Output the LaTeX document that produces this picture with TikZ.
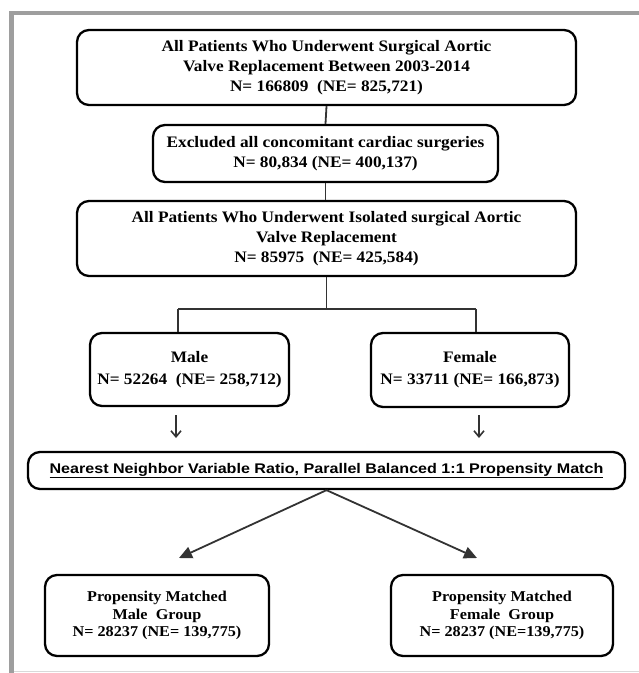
\documentclass[tikz,border=0pt]{standalone}
\usepackage{fontspec}
\setmainfont[FakeStretch=1.08]{Liberation Serif}
\newfontfamily\arialf[FakeStretch=1.15]{Liberation Sans}
\usetikzlibrary{arrows.meta}
\begin{document}
\begin{tikzpicture}[x=1pt,y=-1pt,
  box/.style={draw=black,line width=2.3pt,rounded corners=12pt,align=center,inner sep=0pt,
    font=\fontsize{16}{20}\selectfont\bfseries},
  smallbox/.style={box,font=\fontsize{15}{17.5}\selectfont\bfseries},
  conn/.style={draw=black!80,line width=1.8pt},
  barb/.style={conn,-{Straight Barb[length=6pt,width=10pt,line width=1.6pt]}},
  tri/.style={conn,-{Triangle[length=13pt,width=12pt]},fill=black!80},
]
\useasboundingbox (0,0) rectangle (639,673);
\draw[draw=black!38,line width=4.5pt] (11.5,673) -- (11.5,13) -- (639,13);
\draw[draw=black!15,line width=1.5pt] (14,671.5) -- (639,671.5);

\node[box,minimum width=499pt,minimum height=75pt] (b1) at (326.5,67.5)
  {All Patients Who Underwent Surgical Aortic\\Valve Replacement Between 2003-2014\\N= 166809~ (NE= 825,721)};
\node[box,minimum width=345pt,minimum height=57pt] (b2) at (325.5,153.5)
  {Excluded all concomitant cardiac surgeries\\N= 80,834 (NE= 400,137)};
\node[box,minimum width=499pt,minimum height=75pt] (b3) at (326.5,238.5)
  {All Patients Who Underwent Isolated surgical Aortic\\Valve Replacement\\N= 85975~ (NE= 425,584)};
\node[box,minimum width=199pt,minimum height=73pt,font=\fontsize{16}{22}\selectfont\bfseries] (male) at (189.5,369.5)
  {Male\\N= 52264~ (NE= 258,712)};
\node[box,minimum width=198pt,minimum height=74pt,font=\fontsize{16}{22}\selectfont\bfseries] (fem) at (470,370)
  {Female\\N= 33711 (NE= 166,873)};
\node[box,minimum width=597pt,minimum height=37pt,font=\arialf\fontsize{14}{16}\selectfont\bfseries] (match) at (326.5,470.5)
  {\underline{Nearest Neighbor Variable Ratio, Parallel Balanced 1:1 Propensity Match}};
\node[smallbox,minimum width=224pt,minimum height=81pt] (pmm) at (157,615.5)
  {Propensity Matched\\Male~ Group\\N= 28237 (NE= 139,775)};
\node[smallbox,minimum width=222pt,minimum height=81pt] (pmf) at (502,615.5)
  {Propensity Matched\\Female~ Group\\N= 28237 (NE=139,775)};

\draw[conn] (b1.south) -- (b2.south |- b2.north);
\draw[conn] (b2.south) -- (b2.south |- b3.north);
\coordinate (j) at (326.5,309);
\coordinate (jl) at (178,309);
\coordinate (jr) at (476,309);
\draw[conn] (b3.south) -- (j);
\draw[conn] (jl) -- (jr);
\draw[conn] (jl) -- (jl |- male.north);
\draw[conn] (jr) -- (jr |- fem.north);

\coordinate (al1) at (176,415); \coordinate (al2) at (176,438);
\coordinate (ar1) at (479,415); \coordinate (ar2) at (479,438);
\draw[barb] (al1) -- (al2);
\draw[barb] (ar1) -- (ar2);

\coordinate (tl) at (179,558);
\coordinate (tr) at (477,558);
\draw[tri] (match.south) -- (tl);
\draw[tri] (match.south) -- (tr);
\end{tikzpicture}
\end{document}
